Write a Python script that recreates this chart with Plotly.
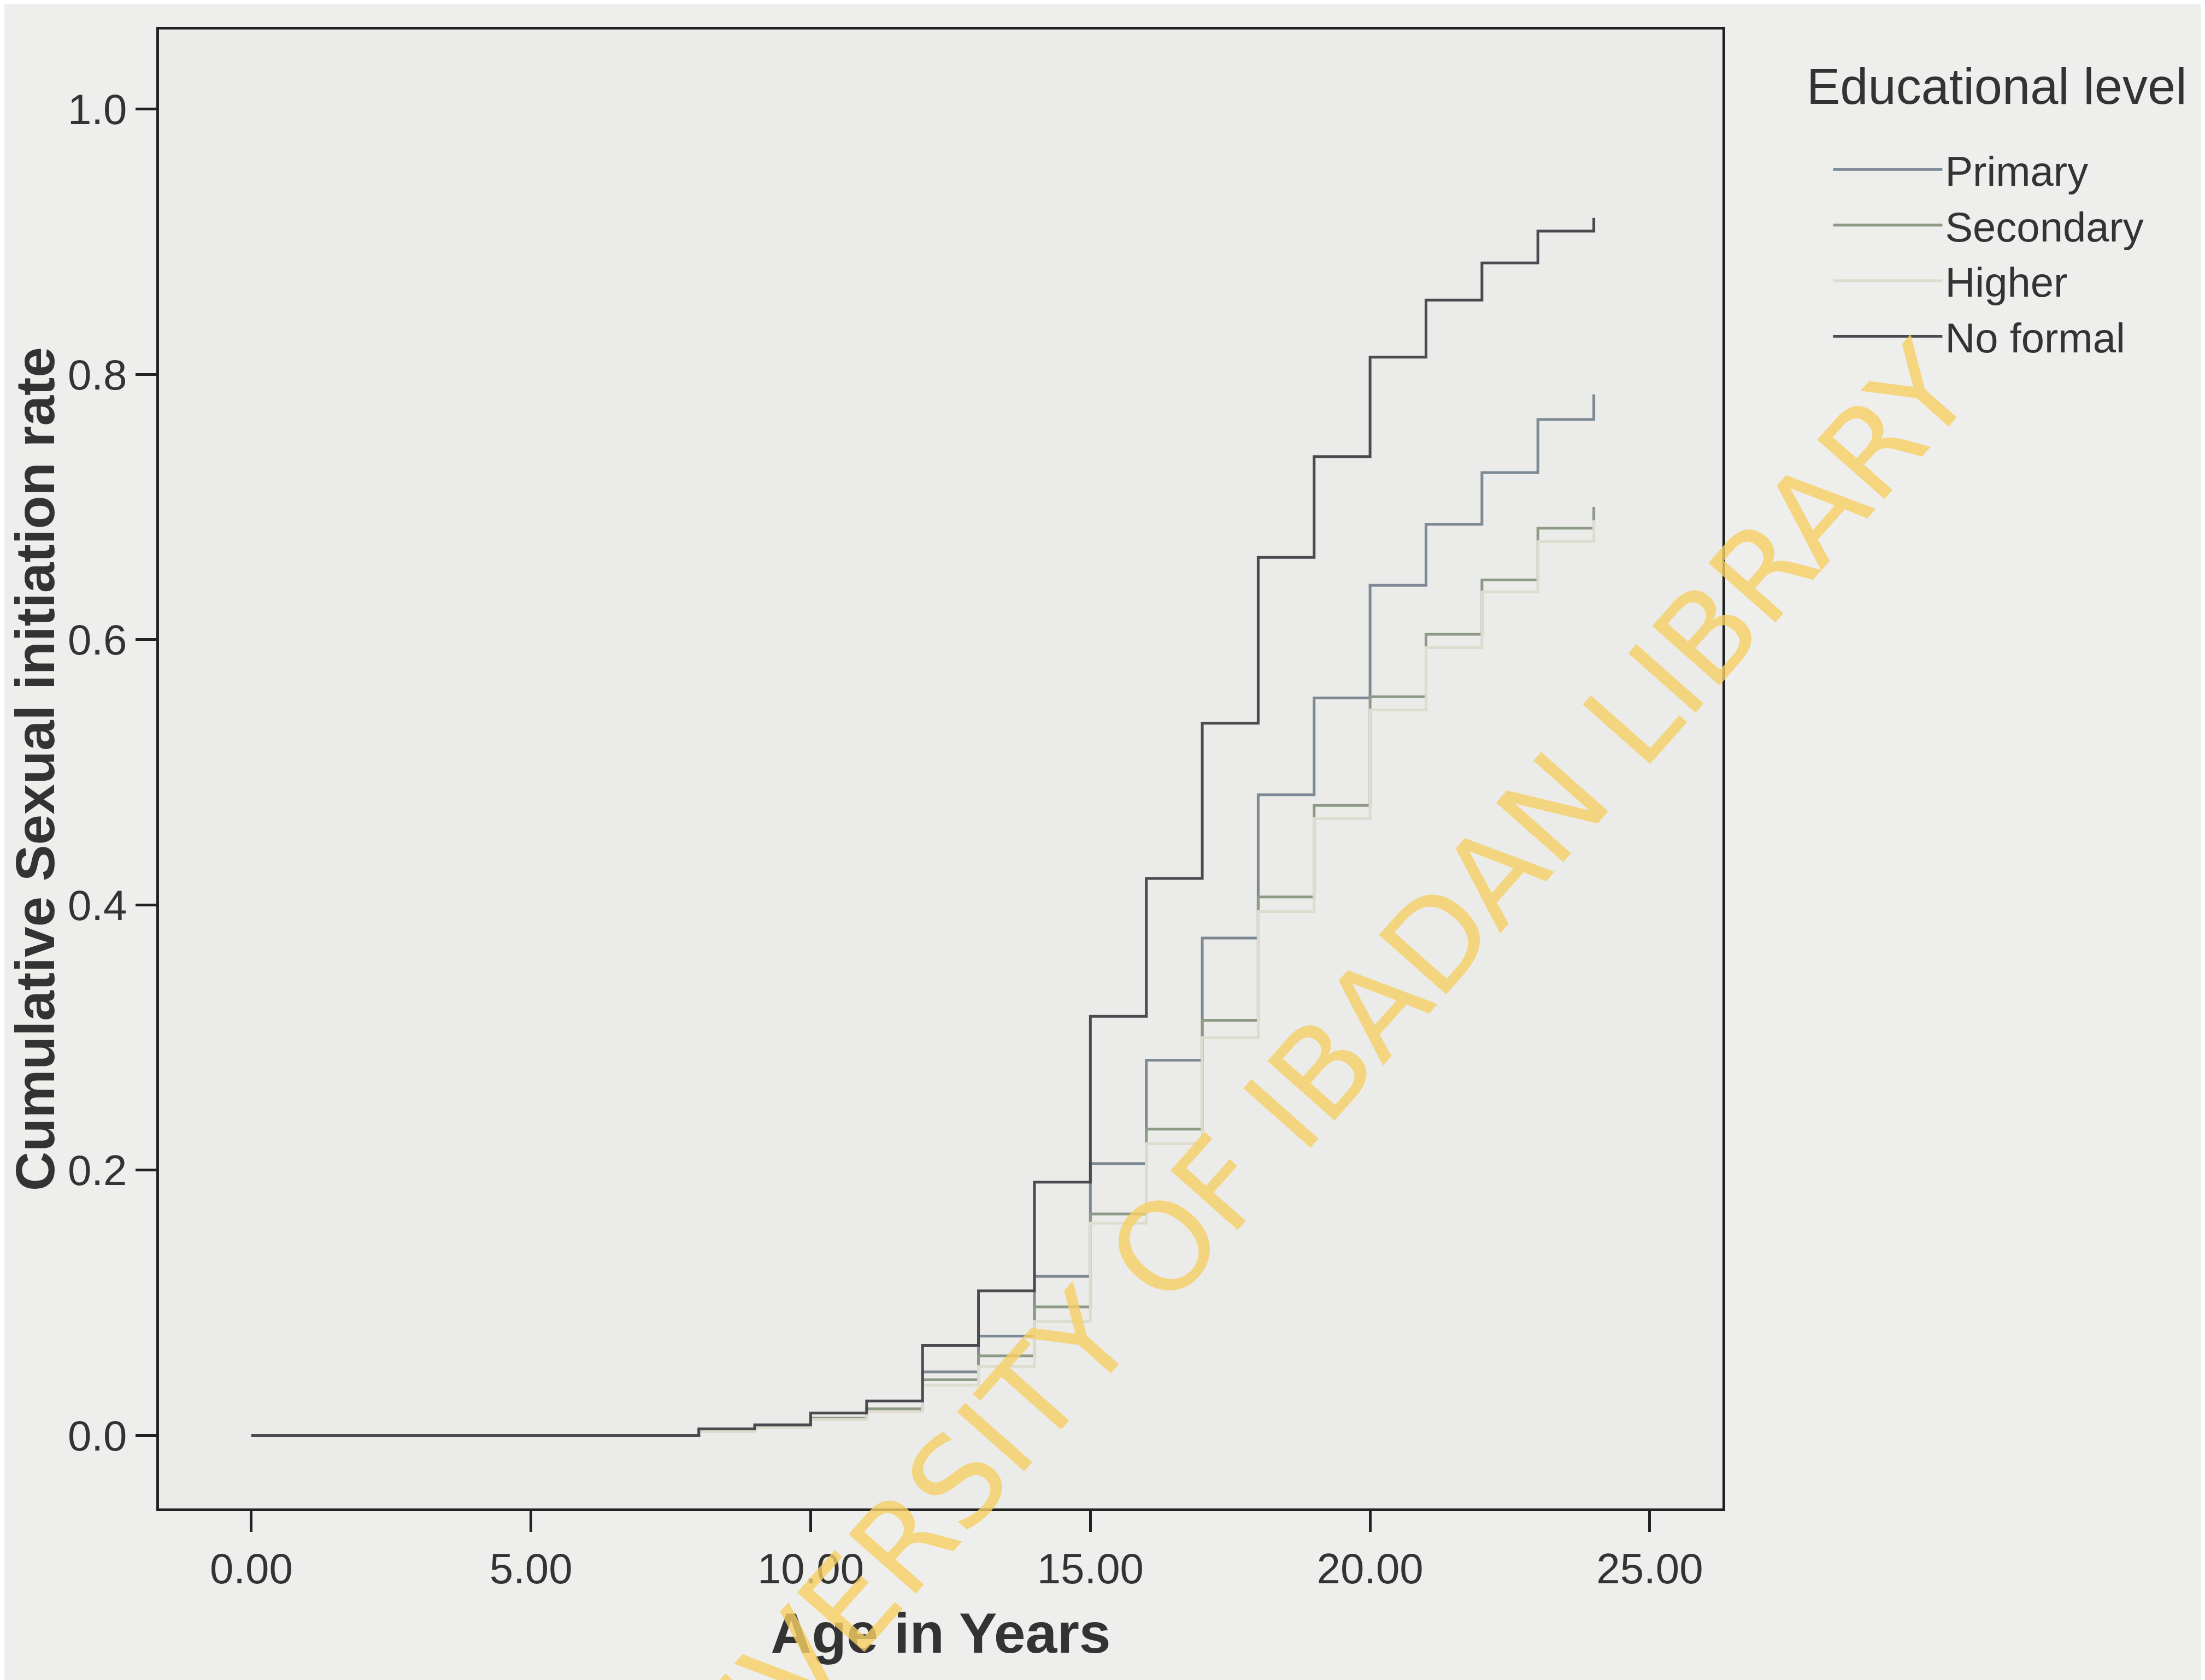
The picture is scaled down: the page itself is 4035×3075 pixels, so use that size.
import plotly.graph_objects as go

ages = [0, 8, 9, 10, 11, 12, 13, 14, 15, 16, 17, 18, 19, 20, 21, 22, 23, 24]
primary = [0, 0.004, 0.007, 0.013, 0.020, 0.048, 0.075, 0.120, 0.205, 0.283, 0.375, 0.483, 0.556, 0.641, 0.687, 0.726, 0.766, 0.785]
secondary = [0, 0.004, 0.007, 0.013, 0.020, 0.042, 0.060, 0.097, 0.167, 0.231, 0.313, 0.406, 0.475, 0.557, 0.604, 0.645, 0.684, 0.700]
higher = [0, 0.003, 0.006, 0.012, 0.018, 0.038, 0.052, 0.086, 0.160, 0.220, 0.300, 0.395, 0.465, 0.547, 0.594, 0.636, 0.674, 0.690]
no_formal = [0, 0.005, 0.008, 0.017, 0.026, 0.068, 0.109, 0.191, 0.316, 0.420, 0.537, 0.662, 0.738, 0.813, 0.856, 0.884, 0.908, 0.918]

series = [
    ("Primary", primary, "#7d8a96"),
    ("Secondary", secondary, "#8c9a86"),
    ("Higher", higher, "#dedcce"),
    ("No formal", no_formal, "#4b4a50"),
]

x_ticks = [0, 5, 10, 15, 20, 25]
y_ticks = [0.0, 0.2, 0.4, 0.6, 0.8, 1.0]

FONT = "Liberation Sans, Arial, sans-serif"
TXT = "#333333"

fig = go.Figure()
for name, vals, col in series:
    fig.add_trace(go.Scatter(
        x=ages, y=vals, mode="lines", name=name,
        line=dict(shape="hv", color=col, width=5),
    ))

fig.update_layout(
    width=4035, height=3075,
    margin=dict(l=283, r=891, t=46, b=322),
    paper_bgcolor="#eeeeec",
    plot_bgcolor="#ebebe9",
    font=dict(family=FONT, color=TXT, size=76),
    legend=dict(
        x=1.069, y=0.926, xanchor="left", yanchor="top",
        bgcolor="rgba(0,0,0,0)",
        font=dict(size=76, color=TXT),
        itemwidth=200, tracegroupgap=14,
    ),
    showlegend=True,
)

fig.add_annotation(
    text="Educational level",
    xref="paper", yref="paper", x=1.053, y=0.981,
    xanchor="left", yanchor="top", showarrow=False,
    font=dict(size=92, color=TXT, family=FONT),
)

fig.update_xaxes(
    range=[-1.65, 26.3],
    tickvals=x_ticks, tickformat=".2f",
    ticks="outside", ticklen=38, tickwidth=5, tickcolor="#222",
    showline=True, mirror=True, linecolor="#222", linewidth=5,
    showgrid=False, zeroline=False,
    tickfont=dict(size=78, color=TXT),
    title=dict(text="<b>Age in Years</b>", font=dict(size=104, color=TXT), standoff=40),
)
fig.update_yaxes(
    range=[-0.055, 1.06],
    tickvals=y_ticks, tickformat=".1f",
    ticks="outside", ticklen=38, tickwidth=5, tickcolor="#222",
    showline=True, mirror=True, linecolor="#222", linewidth=5,
    showgrid=False, zeroline=False,
    tickfont=dict(size=78, color=TXT),
    title=dict(text="<b>Cumulative Sexual initiation rate</b>", font=dict(size=100, color=TXT), standoff=30),
)

fig.add_annotation(
    text="UNIVERSITY OF IBADAN LIBRARY",
    xref="paper", yref="paper", x=0.72, y=0.268,
    xanchor="center", yanchor="middle",
    showarrow=False, textangle=-48.5,
    font=dict(family="DejaVu Sans, sans-serif", size=225, color="rgba(246,208,100,0.8)"),
)

fig.write_html("out.html")
